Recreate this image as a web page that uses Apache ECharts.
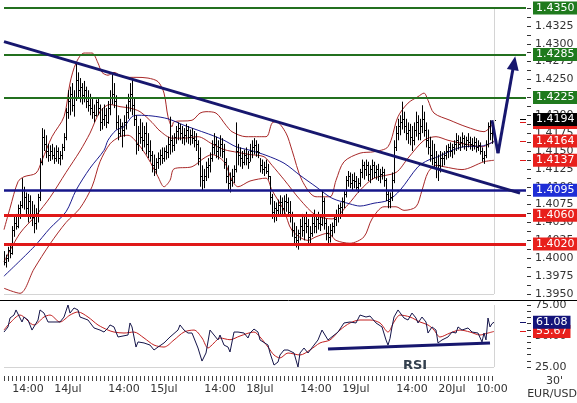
<!DOCTYPE html>
<html><head><meta charset="utf-8">
<script src="https://cdn.jsdelivr.net/npm/echarts/dist/echarts.min.js"></script>
<style>html,body{margin:0;padding:0;background:#fff}#c{width:577px;height:403px}</style>
</head><body><div id="c"></div>
<script>
// ---- categories (30-minute bars) ----
const days = ['13Jul','14Jul','15Jul','18Jul','19Jul','20Jul','21Jul'];
const startHour = 8;
const nCats = 262;
const labelIdx = [12,32,60,80,108,128,156,176,204,224,244];
const lastBarIdx = 245;

// ---- price bars (EUR/USD 30') ----
const high = [
1.4010,1.4005,1.4016,1.4020,1.4045,1.4060,1.4062,1.4075,1.4080,1.4112,
1.4100,1.4092,1.4090,1.4088,1.4080,1.4075,1.4070,1.4090,1.4140,1.4182,
1.4180,1.4172,1.4160,1.4158,1.4160,1.4155,1.4158,1.4155,1.4150,1.4160,
1.4175,1.4210,1.4235,1.4240,1.4245,1.4235,1.4273,1.4260,1.4252,1.4245,
1.4248,1.4240,1.4235,1.4230,1.4225,1.4215,1.4222,1.4225,1.4215,1.4210,
1.4215,1.4210,1.4220,1.4235,1.4259,1.4245,1.4228,1.4200,1.4195,1.4190,
1.4200,1.4215,1.4230,1.4245,1.4252,1.4225,1.4200,1.4185,1.4195,1.4190,
1.4185,1.4190,1.4175,1.4165,1.4150,1.4145,1.4140,1.4148,1.4152,1.4155,
1.4155,1.4158,1.4170,1.4198,1.4172,1.4175,1.4185,1.4190,1.4188,1.4185,
1.4182,1.4188,1.4185,1.4180,1.4182,1.4178,1.4175,1.4165,1.4155,1.4130,
1.4125,1.4135,1.4140,1.4148,1.4165,1.4175,1.4170,1.4165,1.4172,1.4168,
1.4160,1.4140,1.4130,1.4120,1.4125,1.4130,1.4190,1.4160,1.4155,1.4150,
1.4152,1.4155,1.4150,1.4160,1.4165,1.4168,1.4165,1.4160,1.4140,1.4138,
1.4135,1.4138,1.4132,1.4115,1.4090,1.4080,1.4078,1.4082,1.4088,1.4085,
1.4088,1.4090,1.4085,1.4080,1.4065,1.4050,1.4045,1.4040,1.4055,1.4062,
1.4058,1.4065,1.4055,1.4045,1.4060,1.4068,1.4062,1.4065,1.4060,1.4095,
1.4085,1.4055,1.4045,1.4048,1.4050,1.4060,1.4068,1.4075,1.4078,1.4085,
1.4095,1.4115,1.4122,1.4120,1.4118,1.4120,1.4115,1.4112,1.4125,1.4138,
1.4135,1.4138,1.4135,1.4130,1.4138,1.4135,1.4130,1.4132,1.4125,1.4128,
1.4125,1.4112,1.4095,1.4092,1.4120,1.4165,1.4185,1.4195,1.4200,1.4219,
1.4205,1.4195,1.4190,1.4188,1.4185,1.4190,1.4205,1.4200,1.4195,1.4214,
1.4205,1.4190,1.4180,1.4170,1.4165,1.4160,1.4150,1.4145,1.4150,1.4148,
1.4150,1.4158,1.4160,1.4162,1.4160,1.4165,1.4175,1.4172,1.4170,1.4176,
1.4172,1.4170,1.4175,1.4170,1.4168,1.4170,1.4168,1.4165,1.4162,1.4155,
1.4150,1.4165,1.4190,1.4193,1.4185,1.4196];
const low = [
1.3990,1.3987,1.3995,1.4000,1.4005,1.4030,1.4040,1.4042,1.4055,1.4070,
1.4068,1.4060,1.4050,1.4055,1.4045,1.4035,1.4040,1.4050,1.4080,1.4130,
1.4150,1.4140,1.4135,1.4136,1.4138,1.4132,1.4135,1.4132,1.4130,1.4138,
1.4150,1.4165,1.4195,1.4200,1.4205,1.4198,1.4220,1.4225,1.4218,1.4215,
1.4218,1.4210,1.4205,1.4200,1.4195,1.4190,1.4198,1.4200,1.4178,1.4180,
1.4185,1.4182,1.4188,1.4200,1.4215,1.4210,1.4180,1.4165,1.4170,1.4155,
1.4170,1.4180,1.4195,1.4205,1.4200,1.4185,1.4145,1.4150,1.4160,1.4150,
1.4155,1.4145,1.4140,1.4135,1.4120,1.4115,1.4118,1.4125,1.4130,1.4132,
1.4135,1.4138,1.4140,1.4145,1.4148,1.4150,1.4160,1.4165,1.4165,1.4160,
1.4158,1.4162,1.4160,1.4158,1.4160,1.4155,1.4150,1.4130,1.4100,1.4095,
1.4098,1.4108,1.4112,1.4120,1.4135,1.4145,1.4140,1.4138,1.4142,1.4140,
1.4125,1.4105,1.4095,1.4092,1.4100,1.4105,1.4120,1.4130,1.4128,1.4125,
1.4130,1.4130,1.4125,1.4135,1.4140,1.4145,1.4142,1.4140,1.4120,1.4118,
1.4115,1.4118,1.4110,1.4075,1.4055,1.4050,1.4052,1.4058,1.4060,1.4058,
1.4062,1.4065,1.4058,1.4050,1.4030,1.4020,1.4015,1.4012,1.4025,1.4030,
1.4025,1.4035,1.4020,1.4018,1.4030,1.4035,1.4035,1.4040,1.4038,1.4045,
1.4040,1.4025,1.4020,1.4022,1.4030,1.4035,1.4045,1.4050,1.4055,1.4062,
1.4070,1.4085,1.4100,1.4098,1.4095,1.4098,1.4095,1.4092,1.4100,1.4112,
1.4110,1.4115,1.4108,1.4105,1.4110,1.4112,1.4110,1.4108,1.4105,1.4110,
1.4100,1.4080,1.4070,1.4070,1.4080,1.4105,1.4150,1.4165,1.4172,1.4180,
1.4175,1.4165,1.4160,1.4158,1.4150,1.4158,1.4170,1.4165,1.4165,1.4175,
1.4170,1.4155,1.4145,1.4135,1.4130,1.4125,1.4112,1.4108,1.4120,1.4128,
1.4130,1.4138,1.4140,1.4142,1.4140,1.4145,1.4150,1.4152,1.4150,1.4155,
1.4152,1.4150,1.4155,1.4152,1.4150,1.4152,1.4148,1.4150,1.4145,1.4135,
1.4132,1.4140,1.4155,1.4165,1.4160,1.4175];
const close = [
1.3995,1.4000,1.4012,1.4008,1.4040,1.4050,1.4045,1.4070,1.4075,1.4095,
1.4085,1.4070,1.4080,1.4060,1.4058,1.4050,1.4060,1.4085,1.4135,1.4170,
1.4160,1.4150,1.4145,1.4150,1.4145,1.4140,1.4150,1.4140,1.4145,1.4155,
1.4170,1.4205,1.4220,1.4230,1.4215,1.4225,1.4250,1.4235,1.4240,1.4228,
1.4235,1.4220,1.4215,1.4210,1.4205,1.4200,1.4218,1.4210,1.4190,1.4195,
1.4200,1.4190,1.4210,1.4225,1.4230,1.4220,1.4190,1.4175,1.4185,1.4180,
1.4190,1.4205,1.4220,1.4230,1.4215,1.4195,1.4160,1.4175,1.4170,1.4165,
1.4175,1.4160,1.4150,1.4145,1.4130,1.4125,1.4135,1.4140,1.4145,1.4140,
1.4150,1.4148,1.4160,1.4165,1.4158,1.4170,1.4178,1.4182,1.4175,1.4170,
1.4172,1.4180,1.4170,1.4172,1.4168,1.4165,1.4160,1.4140,1.4115,1.4110,
1.4115,1.4128,1.4130,1.4140,1.4155,1.4160,1.4150,1.4155,1.4160,1.4150,
1.4135,1.4115,1.4105,1.4110,1.4115,1.4125,1.4150,1.4145,1.4140,1.4135,
1.4145,1.4140,1.4135,1.4150,1.4155,1.4158,1.4150,1.4148,1.4130,1.4125,
1.4128,1.4122,1.4115,1.4085,1.4065,1.4070,1.4068,1.4075,1.4078,1.4070,
1.4080,1.4078,1.4065,1.4060,1.4040,1.4030,1.4025,1.4035,1.4045,1.4040,
1.4050,1.4045,1.4030,1.4035,1.4050,1.4045,1.4055,1.4050,1.4048,1.4080,
1.4050,1.4035,1.4030,1.4040,1.4045,1.4055,1.4062,1.4070,1.4072,1.4080,
1.4090,1.4110,1.4115,1.4105,1.4110,1.4108,1.4100,1.4105,1.4120,1.4130,
1.4125,1.4130,1.4118,1.4125,1.4130,1.4120,1.4125,1.4115,1.4118,1.4120,
1.4110,1.4090,1.4080,1.4085,1.4110,1.4155,1.4175,1.4185,1.4190,1.4195,
1.4185,1.4175,1.4180,1.4170,1.4165,1.4180,1.4190,1.4175,1.4185,1.4195,
1.4180,1.4165,1.4155,1.4145,1.4140,1.4135,1.4125,1.4130,1.4140,1.4140,
1.4145,1.4150,1.4155,1.4150,1.4155,1.4160,1.4165,1.4160,1.4162,1.4168,
1.4160,1.4165,1.4162,1.4160,1.4158,1.4162,1.4155,1.4158,1.4150,1.4140,
1.4145,1.4160,1.4185,1.4175,1.4180,1.4194];

// ---- indicator lines: [barIndex, value] ----
const upperBand = [[0,1.4040],[3,1.4070],[7,1.4107],[10,1.4114],[16,1.4119],[19,1.4137],[24,1.4170],[30,1.4198],[33,1.4245],[36,1.4273],[40,1.4287],[44,1.4287],[47,1.4273],[49,1.4260],[52,1.4256],[55,1.4260],[60,1.4253],[66,1.4253],[72,1.4252],[77,1.4247],[80,1.4231],[82,1.4198],[84,1.4184],[85,1.4191],[94,1.4193],[98,1.4203],[101,1.4205],[106,1.4203],[111,1.4186],[114,1.4177],[121,1.4170],[131,1.4170],[134,1.4189],[136,1.4191],[141,1.4175],[144,1.4151],[149,1.4109],[156,1.4086],[163,1.4086],[166,1.4109],[170,1.4135],[178,1.4147],[185,1.4149],[192,1.4156],[197,1.4198],[202,1.4217],[207,1.4226],[210,1.4231],[212,1.4221],[215,1.4203],[223,1.4193],[231,1.4184],[240,1.4177],[245,1.4190]];
const midBand = [[0,1.3995],[8,1.4035],[16,1.4060],[23,1.4085],[31,1.4120],[38,1.4150],[43,1.4175],[48,1.4205],[53,1.4215],[58,1.4212],[63,1.4210],[68,1.4205],[74,1.4190],[78,1.4178],[84,1.4168],[90,1.4168],[97,1.4170],[104,1.4160],[110,1.4152],[117,1.4148],[123,1.4145],[130,1.4142],[134,1.4130],[140,1.4110],[148,1.4082],[156,1.4060],[164,1.4055],[172,1.4075],[178,1.4095],[185,1.4112],[196,1.4120],[202,1.4140],[210,1.4165],[216,1.4170],[222,1.4165],[230,1.4160],[239,1.4156],[245,1.4164]];
const lowerBand = [[0,1.3958],[8,1.3951],[15,1.3985],[23,1.4020],[31,1.4050],[38,1.4070],[44,1.4100],[48,1.4135],[53,1.4160],[58,1.4170],[62,1.4172],[67,1.4160],[72,1.4140],[77,1.4114],[80,1.4100],[83,1.4109],[85,1.4125],[94,1.4128],[100,1.4140],[104,1.4145],[110,1.4135],[114,1.4109],[117,1.4100],[123,1.4108],[131,1.4112],[134,1.4095],[140,1.4067],[144,1.4039],[152,1.4025],[156,1.4030],[162,1.4035],[166,1.4025],[173,1.4021],[180,1.4030],[184,1.4055],[190,1.4072],[196,1.4072],[200,1.4067],[206,1.4072],[209,1.4095],[212,1.4120],[216,1.4130],[220,1.4128],[229,1.4124],[240,1.4135],[245,1.4137]];
const maLine = [[0,1.3975],[15,1.4016],[23,1.4042],[31,1.4065],[36,1.4095],[43,1.4126],[50,1.4151],[52,1.4165],[56,1.4179],[60,1.4184],[64,1.4198],[67,1.4200],[74,1.4199],[82,1.4195],[90,1.4186],[97,1.4179],[104,1.4172],[110,1.4165],[116,1.4156],[123,1.4151],[131,1.4144],[140,1.4133],[148,1.4116],[156,1.4100],[164,1.4084],[173,1.4076],[178,1.4073],[185,1.4077],[192,1.4081],[198,1.4095],[207,1.4128],[212,1.4137],[217,1.4142],[224,1.4151],[230,1.4156],[239,1.4157],[245,1.4163]];

// ---- levels / annotations ----
const levelsGreen = [1.4350, 1.4285, 1.4225];
const levelsBlue = [1.4095];
const levelsRed = [1.4060, 1.4020];
const lastPrice = 1.4194;
const upperLast = 1.4190, midLast = 1.4164, lowerLast = 1.4137;
const trendLine = [[0,1.4303],[258,1.4091]];
const arrowPts = [[244,1.4193],[247,1.4147],[255,1.4273]];

// ---- RSI ----
const rsi = [[0,53.2],[2,57.3],[3,64.5],[5,66.9],[6,71.0],[7,72.6],[9,61.3],[10,65.3],[12,62.9],[14,54.8],[15,53.2],[17,62.9],[18,71.0],[20,68.5],[22,61.3],[24,61.3],[26,61.3],[28,61.3],[30,65.3],[32,75.0],[33,68.5],[35,72.6],[37,71.0],[38,65.3],[42,62.9],[45,56.5],[48,54.8],[50,53.2],[52,56.5],[53,58.9],[55,57.3],[57,49.2],[58,48.4],[62,50.8],[63,60.5],[64,57.3],[66,41.1],[67,45.2],[70,44.4],[73,42.7],[75,38.7],[77,41.1],[80,44.4],[83,49.2],[87,54.8],[88,58.9],[90,54.8],[92,52.4],[94,52.4],[97,40.3],[99,29.8],[101,36.3],[103,54.8],[105,50.8],[107,46.8],[108,50.8],[110,42.7],[112,41.1],[113,37.1],[115,53.2],[117,53.2],[120,52.4],[122,48.4],[123,52.4],[125,55.6],[127,53.2],[128,46.8],[132,42.7],[133,36.3],[135,26.6],[137,29.0],[138,34.7],[140,38.7],[142,38.7],[143,38.7],[145,36.3],[147,25.0],[148,36.3],[150,40.3],[152,36.3],[155,42.7],[157,46.8],[159,54.8],[162,46.8],[163,48.4],[167,53.2],[170,60.5],[173,61.3],[176,60.5],[178,66.9],[181,65.3],[183,66.1],[186,60.5],[187,61.3],[189,57.3],[191,46.8],[192,42.7],[193,48.0],[194,57.3],[195,65.3],[197,71.0],[198,72.6],[200,64.5],[202,62.9],[204,68.5],[206,64.5],[207,60.5],[209,65.3],[211,61.3],[212,52.4],[214,57.3],[216,54.8],[217,44.4],[219,46.8],[222,49.2],[224,53.2],[226,52.4],[227,57.3],[229,54.8],[232,56.5],[234,53.2],[237,52.4],[239,45.2],[240,52.4],[241,46.8],[242,64.5],[243,57.3],[244,60.0],[245,61.08]];
const rsiSignal = [[0,54.8],[3,60.5],[8,66.9],[15,58.9],[20,65.3],[23,66.9],[28,61.3],[33,66.9],[37,69.4],[42,65.3],[47,58.9],[52,54.8],[55,53.2],[60,52.4],[65,53.2],[70,48.4],[75,42.7],[80,41.1],[85,46.8],[90,53.2],[95,54.8],[99,48.4],[102,40.3],[105,44.4],[108,48.4],[113,47.0],[118,50.0],[125,53.2],[128,49.2],[132,41.1],[135,34.7],[138,32.3],[142,36.3],[148,34.7],[153,38.7],[158,44.4],[163,46.8],[168,54.8],[173,60.5],[178,62.9],[183,62.9],[188,60.5],[192,53.2],[195,61.3],[198,66.9],[203,65.3],[208,61.3],[212,58.9],[215,54.8],[218,49.2],[223,52.4],[228,54.8],[233,53.2],[238,50.8],[242,52.4],[245,53.67]];
const rsiLast = 61.08, signalLast = 53.67;
const rsiTrend = [[162,39.5],[243,44.4]];

// ---- build ----
const categories = [];
for (let k = 0; k < nCats; k++) {
  const t = startHour * 2 + k, d = Math.floor(t / 48), s = t % 48;
  const hh = Math.floor(s / 2), mm = s % 2 ? '30' : '00';
  categories.push(s === 0 ? days[d] : String(hh).padStart(2, '0') + ':' + mm);
}
const FONT = 'DejaVu Sans';
const GREEN_LINE = '#23701f', GREEN_BOX = '#1f7a1d';
const RED_LINE = '#e01818', RED_BOX = '#e8201c';
const NAVY = '#17176e';
const BAND = '#a82828';
const boxLabel = (bg, fmt, dist) => ({show: true, position: 'end', distance: dist, formatter: fmt,
  backgroundColor: bg, color: '#fff', padding: [1, 3, 1, 3], fontSize: 11, lineHeight: 11, fontFamily: FONT});
const levelItem = (v, line, w, box) => [
  {coord: [0, v], lineStyle: {color: line, width: w, type: 'solid'}, label: boxLabel(box, () => v.toFixed(4), 7)},
  {coord: [nCats - 1, v]}];
const pointer = (v, line, box, dec) => [{coord: [258, v], lineStyle: {color: line, width: 1, type: 'solid'},
  label: boxLabel(box, () => v.toFixed(dec), 7)}, {coord: [nCats - 1, v]}];

const chart = echarts.init(document.getElementById('c'), null, {renderer: 'canvas'});
const option = {
  animation: false,
  backgroundColor: '#fff',
  textStyle: {fontFamily: FONT},
  grid: [
    {left: 3, top: 8, width: 524, height: 286},
    {left: 3, top: 305, width: 524, height: 62}
  ],
  xAxis: [
    {type: 'category', gridIndex: 0, data: categories, boundaryGap: true,
     axisLine: {show: false}, axisTick: {show: false}, axisLabel: {show: false}, splitLine: {show: false}},
    {type: 'category', gridIndex: 1, data: categories, boundaryGap: true, offset: 9,
     axisLine: {show: false},
     axisTick: {show: true, length: 5, alignWithLabel: true, interval: (i) => i % 2 === 0 && i <= lastBarIdx, lineStyle: {color: '#444'}},
     axisLabel: {show: true, interval: (i) => labelIdx.indexOf(i) >= 0, color: '#333', fontSize: 11, fontFamily: FONT, margin: 8},
     splitLine: {show: false}}
  ],
  yAxis: [
    {type: 'value', gridIndex: 0, position: 'right', min: 1.3950, max: 1.4350, interval: 0.0025,
     axisLine: {show: false}, splitLine: {show: false},
     axisTick: {show: true, length: 4, lineStyle: {color: '#333'}},
     minorTick: {show: true, splitNumber: 2, length: 4, lineStyle: {color: '#333'}},
     axisLabel: {formatter: (v) => v.toFixed(4), color: '#333', fontSize: 11, fontFamily: FONT, margin: 8}},
    {type: 'value', gridIndex: 1, position: 'right', min: 25, max: 75, interval: 25,
     axisLine: {show: false}, splitLine: {show: false},
     axisTick: {show: true, length: 4, lineStyle: {color: '#333'}},
     minorTick: {show: true, splitNumber: 5, length: 4, lineStyle: {color: '#333'}},
     axisLabel: {formatter: (v) => v.toFixed(2), color: '#333', fontSize: 11, fontFamily: FONT, margin: 8}}
  ],
  series: [
    // frame lines (gray) behind everything
    {type: 'line', xAxisIndex: 0, yAxisIndex: 0, data: [], z: 1, silent: true,
     markLine: {silent: true, symbol: ['none', 'none'], animation: false, label: {show: false},
       lineStyle: {color: '#d4d4d4', width: 1, type: 'solid'},
       data: [[{coord: [0, 1.3950]}, {coord: [lastBarIdx, 1.3950]}], [{coord: [lastBarIdx, 1.3950]}, {coord: [lastBarIdx, 1.4350]}]]}},
    {type: 'line', xAxisIndex: 1, yAxisIndex: 1, data: [], z: 1, silent: true,
     markLine: {silent: true, symbol: ['none', 'none'], animation: false, label: {show: false},
       lineStyle: {color: '#d4d4d4', width: 1, type: 'solid'},
       data: [[{coord: [0, 25]}, {coord: [lastBarIdx, 25]}], [{coord: [lastBarIdx, 25]}, {coord: [lastBarIdx, 75]}]]}},
    // Bollinger bands and moving average
    {type: 'line', xAxisIndex: 0, yAxisIndex: 0, data: upperBand, symbol: 'none', smooth: 0.3, z: 2,
     lineStyle: {color: BAND, width: 1}},
    {type: 'line', xAxisIndex: 0, yAxisIndex: 0, data: midBand, symbol: 'none', smooth: 0.3, z: 2,
     lineStyle: {color: BAND, width: 1}},
    {type: 'line', xAxisIndex: 0, yAxisIndex: 0, data: lowerBand, symbol: 'none', smooth: 0.3, z: 2,
     lineStyle: {color: BAND, width: 1}},
    {type: 'line', xAxisIndex: 0, yAxisIndex: 0, data: maLine, symbol: 'none', smooth: 0.3, z: 2,
     lineStyle: {color: '#1c1c90', width: 1}},
    // OHLC bars
    {type: 'custom', xAxisIndex: 0, yAxisIndex: 0, z: 3,
     data: high.map((h, i) => [i, h, low[i], close[i]]),
     encode: {x: 0, y: [1, 2, 3]},
     renderItem: (params, api) => {
       const i = api.value(0);
       const hi = api.coord([i, api.value(1)]);
       const lo = api.coord([i, api.value(2)]);
       const cl = api.coord([i, api.value(3)]);
       const x = Math.round(hi[0]) + 0.5;
       return {type: 'group', children: [
         {type: 'line', shape: {x1: x, y1: hi[1], x2: x, y2: lo[1]}, style: {stroke: '#000', lineWidth: 1}},
         {type: 'line', shape: {x1: x, y1: Math.round(cl[1]) + 0.5, x2: x + 1.5, y2: Math.round(cl[1]) + 0.5}, style: {stroke: '#000', lineWidth: 1}}
       ]};
     }},
    // level lines
    {type: 'line', xAxisIndex: 0, yAxisIndex: 0, data: [], z: 4, silent: true,
     markLine: {silent: true, symbol: ['none', 'none'], animation: false,
       data: [].concat(
         levelsGreen.map(v => levelItem(v, GREEN_LINE, 2, GREEN_BOX)),
         levelsBlue.map(v => levelItem(v, '#16168a', 2.5, '#1f2ed6')),
         levelsRed.map(v => levelItem(v, RED_LINE, 3, RED_BOX))
       )}},
    // trend line
    {type: 'line', xAxisIndex: 0, yAxisIndex: 0, data: trendLine, symbol: 'none', z: 5,
     lineStyle: {color: NAVY, width: 3}},
    // arrow + last-value pointers
    {type: 'line', xAxisIndex: 0, yAxisIndex: 0, data: [], z: 6, silent: true,
     markLine: {silent: true, symbol: ['none', 'none'], animation: false,
       data: [
         [{coord: arrowPts[0], lineStyle: {color: NAVY, width: 3, type: 'solid'}, label: {show: false}}, {coord: arrowPts[1]}],
         [{coord: arrowPts[1], lineStyle: {color: NAVY, width: 3, type: 'solid'}, label: {show: false}, symbol: 'none'},
          {coord: arrowPts[2], symbol: 'triangle', symbolSize: [12, 14]}],
         pointer(upperLast, RED_LINE, RED_BOX, 4),
         pointer(lowerLast, RED_LINE, RED_BOX, 4),
         pointer(midLast, RED_LINE, RED_BOX, 4),
         pointer(lastPrice, '#000', '#000', 4)
       ]}},
    // RSI
    {type: 'line', xAxisIndex: 1, yAxisIndex: 1, data: rsiSignal, symbol: 'none', smooth: 0.3, clip: false, z: 3,
     lineStyle: {color: '#c22020', width: 1}},
    {type: 'line', xAxisIndex: 1, yAxisIndex: 1, data: rsi, symbol: 'none', clip: false, z: 4,
     lineStyle: {color: '#15154a', width: 1}},
    {type: 'line', xAxisIndex: 1, yAxisIndex: 1, data: rsiTrend, symbol: 'none', clip: false, z: 5,
     lineStyle: {color: NAVY, width: 3}},
    {type: 'line', xAxisIndex: 1, yAxisIndex: 1, data: [], z: 6, silent: true,
     markLine: {silent: true, symbol: ['none', 'none'], animation: false,
       data: [pointer(signalLast, RED_LINE, RED_BOX, 2), pointer(rsiLast, '#14146e', '#14147a', 2)]}}
  ],
  graphic: [
    {type: 'line', shape: {x1: 0, y1: 300.5, x2: 577, y2: 300.5}, style: {stroke: '#000', lineWidth: 1}, z: 10},
    {type: 'text', left: 403, top: 359, style: {text: 'RSI', font: 'bold 13px "DejaVu Sans"', fill: '#34404e'}, z: 10},
    {type: 'text', left: 546, top: 376, style: {text: "30'", font: '11px "DejaVu Sans"', fill: '#333'}, z: 10},
    {type: 'text', right: 0, top: 389, style: {text: 'EUR/USD', font: '11px "DejaVu Sans"', fill: '#333'}, z: 10}
  ]
};
chart.setOption(option);
</script>
</body></html>
